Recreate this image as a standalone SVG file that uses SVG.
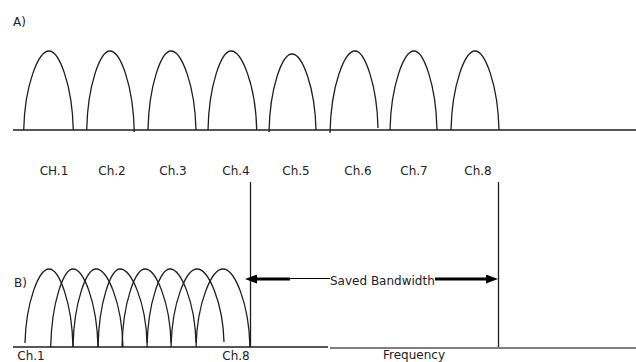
<svg xmlns="http://www.w3.org/2000/svg" width="636" height="362" viewBox="0 0 636 362">
  <style>
    .axis { stroke: #1e1e1e; stroke-width: 1.3; fill: none; }
    .axis-light { stroke: #555; stroke-width: 1.3; fill: none; }
    .arch { stroke: #1e1e1e; stroke-width: 1.3; fill: none; }
    .guide { stroke: #1e1e1e; stroke-width: 1.3; }
    .shaft { stroke: #000; stroke-width: 3; }
    .thin { stroke: #000; stroke-width: 1.2; }
    .lbl { font-family: "DejaVu Sans", Verdana, sans-serif; font-size: 12px; fill: #222; }
    .mid { text-anchor: middle; }
  </style>
  <defs>
    <marker id="head" markerUnits="userSpaceOnUse" markerWidth="12" markerHeight="9" refX="6" refY="4.5" orient="auto">
      <path d="M0,0 L12,4.5 L0,9 z" fill="#000"/>
    </marker>
  </defs>

  <rect width="636" height="362" fill="#fff"/>

  <!-- Panel A: eight separate channels with guard gaps -->
  <text class="lbl" x="13" y="26">A)</text>
  <line class="axis" x1="13" y1="130" x2="636" y2="130"/>
  <g id="a-ch1"><path class="arch" d="M23.7,130 C24.7,85 38.4,51 49,51 C59.2,51 72.3,85 73.3,130"/><text class="lbl mid" x="54" y="174.5">CH.1</text></g>
  <g id="a-ch2"><path class="arch" d="M86.7,130 C87.6,85 100.2,51 110,51 C120.2,51 133.3,85 134.3,132"/><text class="lbl mid" x="112" y="174.5">Ch.2</text></g>
  <g id="a-ch3"><path class="arch" d="M148,130 C148.9,85 161.3,51 171,51 C181.5,51 195,85 196,130"/><text class="lbl mid" x="173" y="174.5">Ch.3</text></g>
  <g id="a-ch4"><path class="arch" d="M208,130 C208.9,85 221.3,51 231,51 C241.8,51 255.7,85 256.7,130"/><text class="lbl mid" x="236" y="174.5">Ch.4</text></g>
  <g id="a-ch5"><path class="arch" d="M269,132 C269.9,86.7 282.3,54 292,54 C302.1,54 315,86.7 316,130"/><text class="lbl mid" x="296" y="174.5">Ch.5</text></g>
  <g id="a-ch6"><path class="arch" d="M330,133 C331,85 344.5,51 355,51 C364.7,51 377.1,85 378,128"/><text class="lbl mid" x="358" y="174.5">Ch.6</text></g>
  <g id="a-ch7"><path class="arch" d="M390,130 C391,85 403.9,51 414,51 C423.7,51 436.1,85 437,130"/><text class="lbl mid" x="414" y="174.5">Ch.7</text></g>
  <g id="a-ch8"><path class="arch" d="M451,130 C452,85 464.9,51 475,51 C485.1,51 498,85 499,130"/><text class="lbl mid" x="478" y="174.5">Ch.8</text></g>

  <!-- Panel B: overlapping channels packed together -->
  <text class="lbl" x="14" y="287">B)</text>
  <line class="axis" x1="13" y1="347" x2="328" y2="347"/>
  <line class="axis-light" x1="330" y1="348" x2="636" y2="348"/>
  <g id="b-ch1"><path class="arch" d="M25,343 C26,302 38.9,269 49,269 C59.1,269 72,302 73,347"/><text class="lbl mid" x="31" y="359.5">Ch.1</text></g>
  <g id="b-ch2"><path class="arch" d="M50.7,347 C51.6,302 63.6,269 73,269 C83.5,269 97,302 98,347"/></g>
  <g id="b-ch3"><path class="arch" d="M73,347 C73.9,302 86.3,269 96,269 C107.3,269 121.9,302 123,347"/></g>
  <g id="b-ch4"><path class="arch" d="M98,347 C98.9,302 110.8,269 120,269 C131.3,269 145.9,302 147,343"/></g>
  <g id="b-ch5"><path class="arch" d="M122,347 C122.9,302 135.3,269 145,269 C155.9,269 170,302 171,343"/></g>
  <g id="b-ch6"><path class="arch" d="M147,347 C147.9,302 160.3,269 170,269 C180.9,269 195,302 196,343"/></g>
  <g id="b-ch7"><path class="arch" d="M171,347 C172,302 186.1,269 197,269 C208.3,269 222.9,302 224,342"/></g>
  <g id="b-ch8"><path class="arch" d="M196,347 C197.1,302 211.7,269 223,269 C234.3,269 248.9,302 250,347"/><text class="lbl mid" x="236" y="359.5">Ch.8</text></g>

  <!-- Bandwidth span: guides and double arrow -->
  <g id="connectors">
    <line class="guide" x1="250.5" y1="182" x2="250.5" y2="347"/>
    <line class="guide" x1="498.5" y1="182" x2="498.5" y2="347"/>
    <line class="shaft" x1="290" y1="279" x2="251" y2="279" marker-end="url(#head)"/>
    <line class="thin" x1="289" y1="278.5" x2="330" y2="278.5"/>
    <line class="shaft" x1="435" y1="279" x2="492" y2="279" marker-end="url(#head)"/>
  </g>
  <text class="lbl" x="330" y="285">Saved Bandwidth</text>
  <text class="lbl" x="383" y="359">Frequency</text>
</svg>
